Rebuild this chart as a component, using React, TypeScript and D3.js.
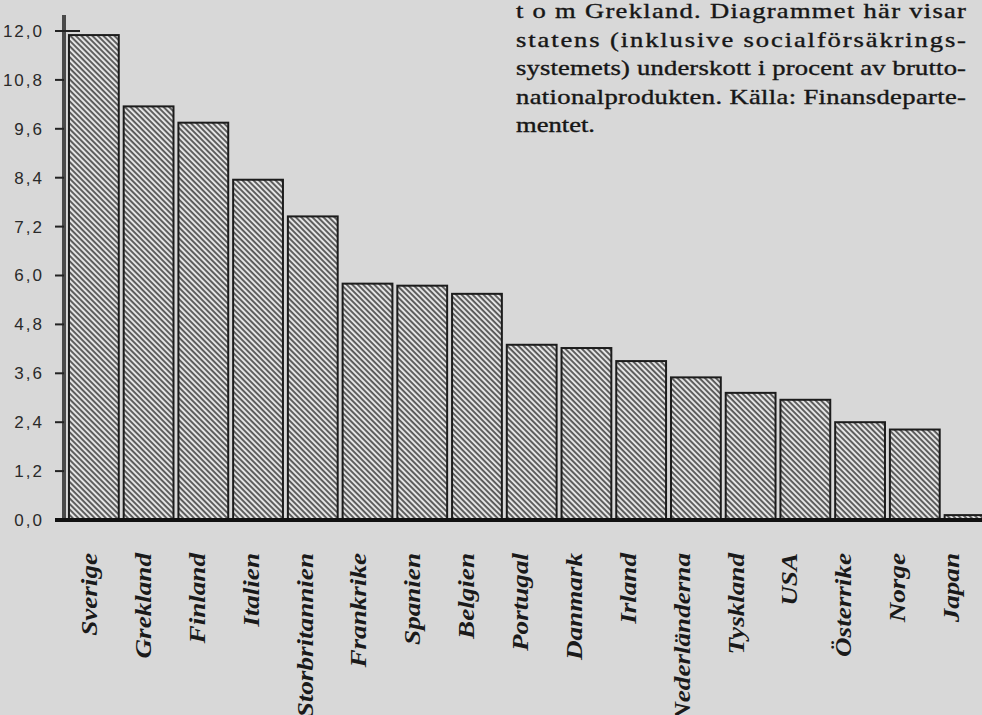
import React from "react";
import * as d3 from "d3";

const countries = [
  "Sverige", "Grekland", "Finland", "Italien", "Storbritannien", "Frankrike",
  "Spanien", "Belgien", "Portugal", "Danmark", "Irland", "Nederländerna",
  "Tyskland", "USA", "Österrike", "Norge", "Japan",
];
const deficits = [
  11.9, 10.15, 9.75, 8.35, 7.45, 5.8, 5.75, 5.55, 4.3, 4.22, 3.9, 3.5,
  3.12, 2.95, 2.4, 2.22, 0.12,
];
const tickValues = [0, 1.2, 2.4, 3.6, 4.8, 6.0, 7.2, 8.4, 9.6, 10.8, 12.0];
const tickLabels = ["0,0", "1,2", "2,4", "3,6", "4,8", "6,0", "7,2", "8,4", "9,6", "10,8", "12,0"];
const captionLines = [
  "t o m Grekland. Diagrammet här visar",
  "statens (inklusive socialförsäkrings-",
  "systemets) underskott i procent av brutto-",
  "nationalprodukten. Källa: Finansdeparte-",
  "mentet.",
];

const W = 982;
const H = 715;

export default function App() {
  const x = d3.scaleBand<string>().domain(countries).range([66.5, 996.9]).paddingInner(0.09).paddingOuter(0.045);
  const y = d3.scaleLinear().domain([0, 12]).range([520, 31]);
  const lx = d3.scalePoint<string>().domain(countries).range([92, 954]);
  const cy = d3.scaleLinear().domain([0, 4]).range([18, 132]);
  const sx = 1.33;
  const textW = 450;

  return (
    <svg width={W} height={H} style={{ position: "absolute", left: 0, top: 0, display: "block" }}>
      <defs>
        <pattern id="hatch" width={3.9} height={3.9} patternUnits="userSpaceOnUse" patternTransform="rotate(-45)">
          <rect width={3.9} height={3.9} fill="#e4e4e4" />
          <line x1={1} y1={0} x2={1} y2={3.9} stroke="#363636" strokeWidth={1.5} />
        </pattern>
      </defs>
      <rect width={W} height={H} fill="#d8d8d8" />

      {/* caption text */}
      <g fontFamily="'Liberation Serif', 'Times New Roman', serif" fontSize={20} fill="#161616" stroke="#161616" strokeWidth={0.35}>
        {captionLines.map((line, i) => (
          <text
            key={i}
            transform={`translate(516,${cy(i)}) scale(${sx},1)`}
            {...(i < captionLines.length - 1 ? { textLength: textW / sx, lengthAdjust: "spacing" } : {})}
          >
            {line}
          </text>
        ))}
      </g>

      {/* bars */}
      {countries.map((c, i) => (
        <rect
          key={c}
          x={x(c)}
          y={y(deficits[i])}
          width={x.bandwidth()}
          height={y(0) - y(deficits[i])}
          fill="url(#hatch)"
          stroke="#1c1c1c"
          strokeWidth={2}
        />
      ))}

      {/* y axis */}
      <line x1={64} x2={64} y1={15} y2={520} stroke="#4a4a4a" strokeWidth={4} />
      {tickValues.map((v, i) => (
        <g key={v}>
          <line x1={55} x2={v === 12 ? 80 : 64} y1={y(v)} y2={y(v)} stroke="#222" strokeWidth={2} />
          <text
            x={44}
            y={y(v)}
            dy="0.35em"
            textAnchor="end"
            fontFamily="'Liberation Sans', Arial, sans-serif"
            fontSize={17}
            letterSpacing={2}
            fill="#2a2a2a"
          >
            {tickLabels[i]}
          </text>
        </g>
      ))}
      <line x1={55} x2={W} y1={520} y2={520} stroke="#111" strokeWidth={4} />

      {/* category labels */}
      {countries.map((c) => (
        <text
          key={c}
          transform={`translate(${(lx(c) as number) + 5},553) rotate(-90) scale(1.18,1)`}
          textAnchor="end"
          fontFamily="'Liberation Serif', 'Times New Roman', serif"
          fontStyle="italic"
          fontWeight="bold"
          fontSize={23}
          fill="#1a1a1a"
        >
          {c}
        </text>
      ))}
    </svg>
  );
}
